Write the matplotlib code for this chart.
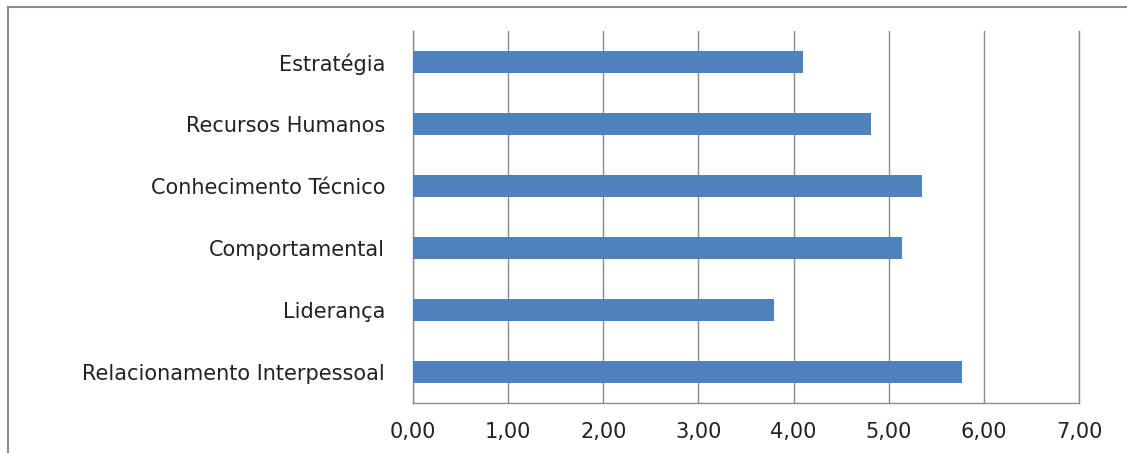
import matplotlib
matplotlib.use("Agg")
import matplotlib.pyplot as plt
from matplotlib.patches import Rectangle

categories = ["Estratégia", "Recursos Humanos", "Conhecimento Técnico",
              "Comportamental", "Liderança", "Relacionamento Interpessoal"]
values = [4.10, 4.81, 5.35, 5.14, 3.79, 5.77]
xticks = [0, 1, 2, 3, 4, 5, 6, 7]
xtick_labels = ["0,00", "1,00", "2,00", "3,00", "4,00", "5,00", "6,00", "7,00"]

plt.rcParams['font.family'] = ['DejaVu Sans']

W, H = 1127, 453
fig = plt.figure(figsize=(W / 100, H / 100), dpi=100)
fig.patch.set_facecolor("white")

# outer chart frame (left and top edges visible)
fig.patches.append(Rectangle((8 / W, -0.1), 1.2, (H - 7) / H + 0.1,
                             transform=fig.transFigure, fill=False,
                             edgecolor="#8c8c8c", linewidth=1.5))

ax = fig.add_axes([413 / W, 1 - 403 / H, (1079 - 413) / W, (403 - 31) / H])
ypos = list(range(len(categories)))[::-1]
ax.barh(ypos, values, height=0.37, color="#4F81BD", zorder=3)
ax.set_xlim(0, 7)
ax.set_ylim(-0.5, len(categories) - 0.5)
ax.set_yticks(ypos)
ax.set_yticklabels(categories, fontsize=15, color="#222222")
ax.set_xticks(xticks)
ax.set_xticklabels(xtick_labels, fontsize=15, color="#222222")
ax.tick_params(axis="both", length=0)
ax.tick_params(axis="y", pad=20)
ax.tick_params(axis="x", pad=14)
ax.grid(axis="x", color="#8a8a8a", linewidth=1.0, zorder=0)
ax.axvline(7, color="#8a8a8a", linewidth=1.0, zorder=0, clip_on=False)
for s in ["top", "right"]:
    ax.spines[s].set_visible(False)
for s in ["left", "bottom"]:
    ax.spines[s].set_color("#8a8a8a")
    ax.spines[s].set_linewidth(1.0)

fig.savefig("out.png", dpi=100)
